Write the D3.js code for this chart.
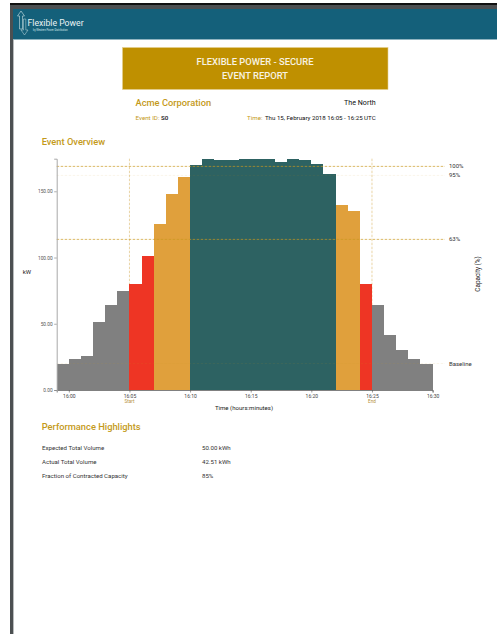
<!DOCTYPE html>
<html>
<head>
<meta charset="utf-8">
<title>Flexible Power - Secure Event Report</title>
<script src="https://cdn.jsdelivr.net/npm/d3@7/dist/d3.min.js"></script>
<style>
  html, body { margin: 0; padding: 0; background: #fff; overflow: hidden; }
  svg { display: block; }
  text { font-family: Roboto, "Open Sans", sans-serif; }
</style>
</head>
<body>
<svg id="page" width="497" height="634"></svg>
<script>
// Each bar covers one minute; the index counts minutes from 15:59
const minutes = [0,1,2,3,4,5,6,7,8,9,10,11,12,13,14,15,16,17,18,19,20,21,22,23,24,25,26,27,28,29,30];
const powerKw = [20,23.4,25.4,51,64,74.7,80,101,125,148,160.8,169.8,174.6,173.8,173.8,174.6,174.6,174.6,171.8,174.6,173.8,170.8,162.8,139.6,134.9,80,64,41.3,30.2,23.2,20];
const bands = ["low","low","low","low","low","low","ramp","ramp","mid","mid","mid","high","high","high","high","high","high","high","high","high","high","high","high","mid","mid","ramp","low","low","low","low","low"];
const bandNames = ["low","ramp","mid","high"];
const bandColours = ["#808080","#ee3524","#e0a03c","#2d6262"];

const yTicks = [0,50,100,150];
const xTickMinutes = [1,6,11,16,21,26,31];
const xTickLabels = ["16:00","16:05","16:10","16:15","16:20","16:25","16:30"];
const eventMarkers = [{label:"Start", index:1},{label:"End", index:5}];

const levelLabels = ["100%","95%","63%","Baseline"];
const levelValues = [168.8,162,113.7,20];
const levelOpacity = [0.85,0.12,0.85,0.12];

const metricNames = ["Expected Total Volume","Actual Total Volume","Fraction of Contracted Capacity"];
const metricValues = ["50.00 kWh","42.51 kWh","85%"];

const gold = "#c49a1a";
const svg = d3.select("#page");

// Page chrome: top rule, left rail and header band
svg.append("rect").attr("x",10).attr("y",3).attr("width",487).attr("height",2).attr("fill","#111");
svg.append("rect").attr("x",10).attr("y",5).attr("width",487).attr("height",4).attr("fill","#4c5052");
svg.append("rect").attr("x",10).attr("y",5).attr("width",3).attr("height",629).attr("fill","#4c5052");
svg.append("rect").attr("x",13).attr("y",9).attr("width",1).attr("height",625).attr("fill","#b9bcbd");
svg.append("rect").attr("x",13).attr("y",9).attr("width",484).attr("height",30).attr("fill","#14607a");
svg.append("rect").attr("x",13).attr("y",39).attr("width",484).attr("height",1).attr("fill","#8fb4c0");

// Logo: paired outline arrows with the wordmark
const logo = svg.append("g").attr("fill","none").attr("stroke","#cfe3e6").attr("stroke-width",0.6);
logo.append("path").attr("d","M17.5 16 L21 11 L24.5 16 L22.5 16 L22.5 29 L19.5 29 L19.5 16 Z");
logo.append("path").attr("d","M23.5 19 L23.5 30 L21 30 L24.5 35 L28 30 L25.8 30 L25.8 19 Z").attr("stroke-opacity",0.8);
svg.append("text").attr("x",27.5).attr("y",26.2).attr("font-size",8.7).attr("fill","#eaf3f4").text("Flexible Power");
svg.append("text").attr("x",33).attr("y",30.5).attr("font-size",2.6).attr("fill","#cfe3e6").text("by Western Power Distribution");

// Report title block
svg.append("rect").attr("x",122.5).attr("y",47.5).attr("width",265.5).attr("height",42)
  .attr("fill","#bf9000").attr("stroke","#e4cf8f").attr("stroke-width",0.6);
svg.selectAll("text.title").data(["FLEXIBLE POWER - SECURE","EVENT REPORT"]).join("text")
  .attr("class","title").attr("x",255).attr("y",(d,i)=>64.5+i*14)
  .attr("text-anchor","middle").attr("font-size",9.4).attr("font-weight",500).attr("fill","#f8f3e2").text(d=>d);

// Event details
svg.append("text").attr("x",135.5).attr("y",106).attr("font-size",9.3).attr("font-weight",500).attr("fill",gold).text("Acme Corporation");
svg.append("text").attr("x",375.7).attr("y",105).attr("text-anchor","end").attr("font-size",7.1).attr("fill","#111").text("The North");
svg.append("text").attr("x",135.5).attr("y",120).attr("font-size",6.2).attr("fill",gold).text("Event ID:");
svg.append("text").attr("x",161).attr("y",120).attr("font-size",6.2).attr("font-weight",500).attr("fill","#111").text("S0");
svg.append("text").attr("x",262.5).attr("y",120).attr("text-anchor","end").attr("font-size",6.2).attr("fill",gold).text("Time:");
svg.append("text").attr("x",375.7).attr("y",120).attr("text-anchor","end").attr("font-size",6.15).attr("fill","#111").text("Thu 15, February 2018 16:05 - 16:25 UTC");
svg.append("text").attr("x",41.7).attr("y",144.5).attr("font-size",9.3).attr("font-weight",500).attr("fill",gold).text("Event Overview");

// Chart scales
const plotLeft = 56.7, plotRight = 432.6, plotBottom = 390, plotTop = 158.7;
const x = d3.scaleLinear().domain([0,31]).range([plotLeft,plotRight]);
const y = d3.scaleLinear().domain([0,d3.max(powerKw)]).range([plotBottom,plotTop]);
const colour = d3.scaleOrdinal().domain(bandNames).range(bandColours);

// Dashed markers at the event start and end, behind the bars
svg.append("g").selectAll("line").data(eventMarkers).join("line")
  .attr("x1",d=>x(xTickMinutes[d.index])).attr("x2",d=>x(xTickMinutes[d.index]))
  .attr("y1",plotTop).attr("y2",plotBottom)
  .attr("stroke","#e3c98f").attr("stroke-width",0.8).attr("stroke-dasharray","2.5,1.5");

// One bar per minute, coloured by how far the output reached; crisp edges keep neighbours seamless
svg.append("g").attr("shape-rendering","crispEdges").selectAll("rect").data(powerKw).join("rect")
  .attr("x",(d,i)=>x(minutes[i]))
  .attr("y",d=>y(d))
  .attr("width",(d,i)=>x(minutes[i]+1)-x(minutes[i]))
  .attr("height",d=>plotBottom-y(d))
  .attr("fill",(d,i)=>colour(bands[i]));

// Capacity reference lines with their labels
svg.append("g").selectAll("line").data(levelValues).join("line")
  .attr("x1",plotLeft).attr("x2",445)
  .attr("y1",d=>y(d)).attr("y2",d=>y(d))
  .attr("stroke","#c9991f").attr("stroke-width",0.8)
  .attr("stroke-dasharray","2.5,1.5")
  .attr("stroke-opacity",(d,i)=>levelOpacity[i]);
svg.append("g").selectAll("text").data(levelLabels).join("text")
  .attr("x",449).attr("y",(d,i)=>y(levelValues[i])+2)
  .attr("font-size",6).attr("fill","#333").text(d=>d);

// Axes
const xAxis = svg.append("g").attr("transform",`translate(0,${plotBottom})`)
  .call(d3.axisBottom(x).tickValues(xTickMinutes).tickSize(2.5).tickPadding(1.5)
    .tickFormat((d,i)=>xTickLabels[i]));
xAxis.select(".domain").attr("stroke","#808080").attr("stroke-width",1);
xAxis.selectAll("line").attr("stroke","#555").attr("stroke-width",0.6);
xAxis.selectAll("text").attr("font-size",5).attr("fill","#444").style("font-family","Roboto");

const yAxis = svg.append("g").attr("transform",`translate(${plotLeft},0)`)
  .call(d3.axisLeft(y).tickValues(yTicks).tickSize(2.5).tickPadding(1.5).tickFormat(d3.format(".2f")));
yAxis.select(".domain").attr("stroke","#a8a8a8").attr("stroke-width",1);
yAxis.selectAll("line").attr("stroke","#777").attr("stroke-width",0.6);
yAxis.selectAll("text").attr("font-size",4.8).attr("fill","#555").style("font-family","Roboto");

svg.append("g").selectAll("text").data(eventMarkers).join("text")
  .attr("x",d=>x(xTickMinutes[d.index])).attr("y",403)
  .attr("text-anchor","middle").attr("font-size",4.6).attr("fill","#b58f3a").text(d=>d.label);

svg.append("text").attr("x",244).attr("y",409.5).attr("text-anchor","middle").attr("font-size",6.1).attr("fill","#222").text("Time (hours:minutes)");
svg.append("text").attr("x",22.7).attr("y",273.5).attr("font-size",6).attr("fill","#222").text("kW");
svg.append("text").attr("transform","translate(479.5,274) rotate(-90)").attr("text-anchor","middle").attr("font-size",6.4).attr("fill","#222").text("Capacity (%)");

// Performance summary table
svg.append("text").attr("x",41.7).attr("y",429.5).attr("font-size",9.3).attr("font-weight",500).attr("fill",gold).text("Performance Highlights");
svg.append("g").selectAll("text").data(metricNames).join("text")
  .attr("x",42).attr("y",(d,i)=>449.7+i*14.2).attr("font-size",6.1).attr("fill","#333").text(d=>d);
svg.append("g").selectAll("text").data(metricValues).join("text")
  .attr("x",202).attr("y",(d,i)=>449.7+i*14.2).attr("font-size",6.1).attr("fill","#333").text(d=>d);
</script>
</body>
</html>
